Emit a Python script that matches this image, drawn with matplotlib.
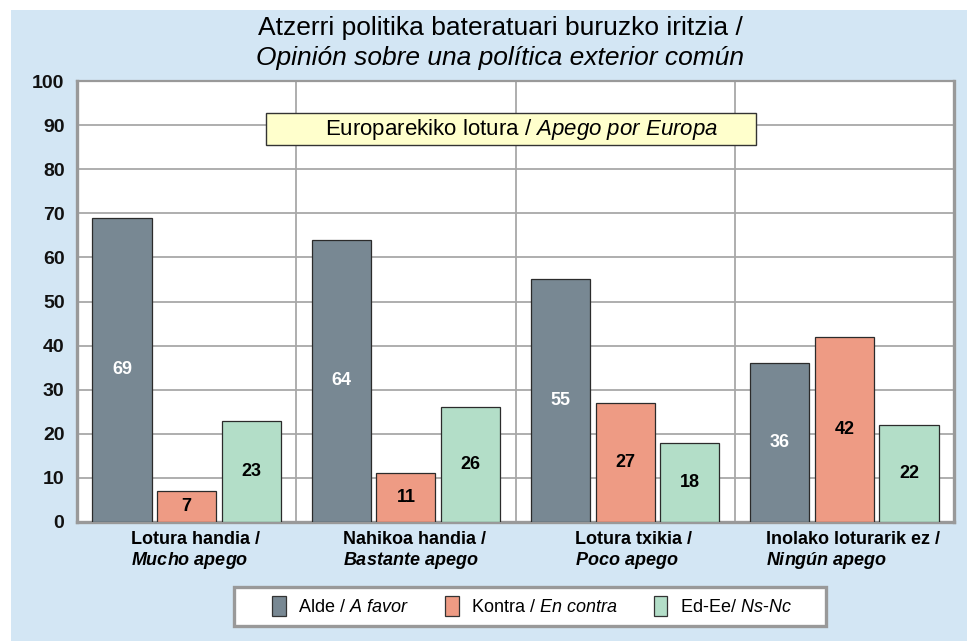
import numpy as np
import matplotlib
matplotlib.use("Agg")
import matplotlib.pyplot as plt
from matplotlib.patches import Rectangle, Patch

plt.rcParams['font.family'] = ['Liberation Sans', 'DejaVu Sans']
plt.rcParams['mathtext.fontset'] = 'custom'
plt.rcParams['mathtext.rm'] = 'Liberation Sans'
plt.rcParams['mathtext.it'] = 'Liberation Sans:italic'
plt.rcParams['mathtext.bf'] = 'Liberation Sans:bold'
plt.rcParams['mathtext.bfit'] = 'Liberation Sans:bold:italic'

# data
categories = ['Lotura handia /\n$\\mathbfit{Mucho\\ apego}$',
              'Nahikoa handia /\n$\\mathbfit{Bastante\\ apego}$',
              'Lotura txikia /\n$\\mathbfit{Poco\\ apego}$',
              'Inolako loturarik ez /\n$\\mathbfit{Ningún\\ apego}$']
alde = [69, 64, 55, 36]
kontra = [7, 11, 27, 42]
ed_ee = [23, 26, 18, 22]
series_labels = ['Alde / $\\mathit{A\\ favor}$',
                 'Kontra / $\\mathit{En\\ contra}$',
                 'Ed-Ee/ $\\mathit{Ns\\text{-}Nc}$']
colors = ['#788893', '#EE9B84', '#B3DEC8']
text_colors = ['white', 'black', 'black']

fig = plt.figure(figsize=(9.67, 6.41), dpi=100, facecolor='white')
# light blue panel
fig.patches.append(Rectangle((11 / 967, 0), 1, 631 / 641, transform=fig.transFigure,
                             facecolor='#D3E6F4', edgecolor='none', zorder=-10))

ax = fig.add_axes([77 / 967, 1 - 522 / 641, 877 / 967, 441 / 641])
ax.set_facecolor('white')

x = np.arange(len(categories))
w = 0.27
off = 0.295
for i, vals in enumerate([alde, kontra, ed_ee]):
    bars = ax.bar(x + (i - 1) * off, vals, w, color=colors[i], edgecolor='#2b2b2b',
                  linewidth=0.9, zorder=3)
    for b, v in zip(bars, vals):
        ax.text(b.get_x() + b.get_width() / 2, v / 2, str(v), ha='center', va='center',
                fontsize=13, fontweight='bold', color=text_colors[i], zorder=4)

ax.set_xlim(-0.5, 3.5)
ax.set_ylim(0, 100)
ax.set_yticks(np.arange(0, 101, 10))
ax.set_xticks(x)
ax.set_xticklabels([])
ax.set_xticks([0.5, 1.5, 2.5], minor=True)
ax.grid(True, axis='y', which='major', color='#A8A8A8', linewidth=1.3, zorder=0)
ax.grid(True, axis='x', which='minor', color='#A8A8A8', linewidth=1.3, zorder=0)
ax.tick_params(axis='both', which='both', length=0)
ax.tick_params(axis='y', labelsize=14, pad=9)
for lab in ax.get_yticklabels():
    lab.set_fontweight('bold')
    lab.set_color('#111111')
for side, lw in [('left', 2.4), ('bottom', 2.4), ('right', 2.4), ('top', 1.6)]:
    ax.spines[side].set_color('#999999')
    ax.spines[side].set_linewidth(lw)

# category labels
for xi, lab in zip(x, categories):
    ax.text(xi + 0.04, -2.1, lab, ha='center', va='top', multialignment='left',
            fontsize=13, fontweight='bold', linespacing=1.1)

# title
fig.text(0.517, 1 - 28 / 641, 'Atzerri politika bateratuari buruzko iritzia /',
         ha='center', va='center', fontsize=19)
fig.text(0.517, 1 - 58 / 641, 'Opinión sobre una política exterior común',
         ha='center', va='center', fontsize=19, style='italic')

# inner box
fig.patches.append(Rectangle((266 / 967, 1 - 145 / 641), 490 / 967, 32 / 641,
                             transform=fig.transFigure, facecolor='#FFFFCC',
                             edgecolor='#333333', linewidth=1.0, zorder=5))
fig.text(522 / 967, 1 - 129 / 641, 'Europarekiko lotura / $\\mathit{Apego\\ por\\ Europa}$',
         ha='center', va='center', fontsize=16, zorder=6)

# legend
fig.patches.append(Rectangle((234 / 967, 1 - 626 / 641), 592 / 967, 39 / 641,
                             transform=fig.transFigure, facecolor='white',
                             edgecolor='#999999', linewidth=2.4, zorder=5))
handles = [Patch(facecolor=c, edgecolor='#333333', linewidth=0.9) for c in colors]
leg = fig.legend(handles, series_labels, loc='center', bbox_to_anchor=(532 / 967, 1 - 606 / 641),
                 ncol=3, fontsize=13, frameon=False, handlelength=0.75,
                 handleheight=1.3, handletextpad=0.7, columnspacing=2.0)
leg.set_zorder(6)

fig.savefig('out.png', dpi=100)
